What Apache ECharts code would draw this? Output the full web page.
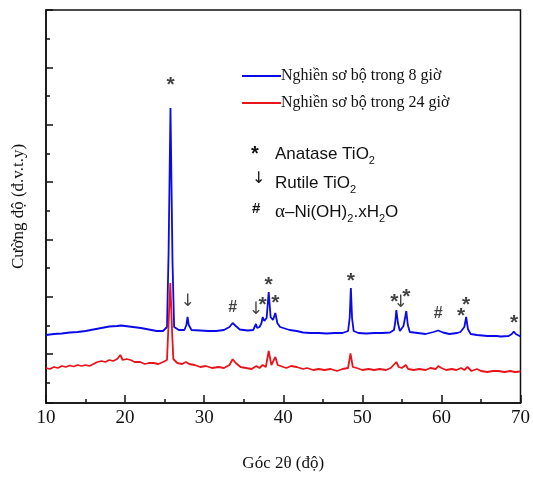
<!DOCTYPE html>
<html>
<head>
<meta charset="utf-8">
<script src="https://cdn.jsdelivr.net/npm/echarts@6/dist/echarts.min.js"></script>
<style>
  html, body { margin: 0; padding: 0; background: #fff; }
  #xrd_chart { width: 533px; height: 477px; }
</style>
</head>
<body>
<div id="xrd_chart"></div>
<script>
// 2theta (degrees) and intensity (a.u.)
var blueX = [10.0, 11.0, 12.0, 13.0, 14.0, 15.0, 16.0, 17.0, 18.0, 19.0, 19.5, 20.0, 21.0, 22.0, 23.0, 24.0, 24.8, 25.3, 25.5, 25.74, 26.0, 26.2, 26.8, 27.5, 27.75, 27.9, 28.05, 28.4, 29.5, 30.5, 31.5, 32.5, 33.2, 33.6, 34.0, 34.5, 35.5, 36.2, 36.4, 36.55, 36.7, 37.0, 37.25, 37.4, 37.6, 37.9, 38.16, 38.4, 38.7, 39.0, 39.25, 39.6, 40.0, 40.8, 41.7, 42.5, 43.4, 44.5, 45.5, 46.5, 47.5, 48.2, 48.4, 48.55, 48.7, 48.9, 49.5, 50.5, 51.5, 52.5, 53.5, 54.0, 54.15, 54.3, 54.5, 54.75, 54.9, 55.2, 55.4, 55.56, 55.75, 56.0, 57.0, 58.0, 59.0, 59.6, 60.2, 61.0, 62.0, 62.4, 62.6, 62.9, 63.13, 63.35, 63.7, 64.5, 65.8, 67.0, 67.5, 68.5, 68.9, 69.15, 69.4, 70.0];
var blueY = [68, 69, 69.5, 70.5, 71, 72, 73.5, 75, 76.5, 77, 77.5, 77, 76, 75, 73.5, 72, 72, 76, 150, 295, 140, 76, 73, 73, 78, 86, 78, 73, 72.5, 72, 72, 73, 76, 80, 77, 73.5, 72.5, 73, 75, 79, 75, 76, 80, 86, 82, 85, 111, 86, 83, 90, 80, 76, 75, 73, 72, 70.5, 70, 70, 69.5, 70, 70, 72, 85, 115, 85, 72, 70, 69.5, 70, 70, 70.5, 73, 80, 93, 80, 72, 72.5, 77, 85, 92, 78, 71, 70, 69, 71, 72.5, 70.5, 69, 70, 71, 70.5, 76, 86, 74, 69, 68, 67, 67, 66.5, 67, 69, 71.5, 69, 66.5];

var redX = [10.0, 10.5, 11.0, 11.5, 12.0, 12.5, 13.0, 13.5, 14.0, 14.5, 15.0, 15.5, 16.0, 16.5, 17.0, 17.5, 18.0, 18.5, 19.0, 19.4, 19.7, 20.2, 20.7, 21.2, 21.9, 22.5, 23.0, 23.6, 24.2, 24.8, 25.3, 25.5, 25.72, 25.95, 26.1, 26.6, 27.2, 27.7, 27.9, 28.1, 28.8, 29.5, 30.2, 31.0, 31.8, 32.5, 33.2, 33.6, 34.0, 34.6, 35.3, 36.0, 36.6, 37.0, 37.4, 37.8, 38.16, 38.5, 39.0, 39.3, 40.0, 40.4, 41.0, 41.7, 42.5, 43.0, 43.8, 44.5, 45.2, 46.0, 46.8, 47.5, 48.2, 48.5, 48.8, 49.3, 50.0, 50.8, 51.5, 52.2, 53.0, 53.6, 54.3, 54.6, 55.0, 55.5, 55.8, 56.5, 57.2, 58.0, 58.6, 59.3, 59.6, 60.0, 60.6, 61.3, 61.9, 62.5, 62.9, 63.3, 63.8, 64.5, 65.0, 65.8, 66.5, 67.2, 68.0, 68.7, 69.3, 70.0];
var redY = [35, 34, 36, 35, 37, 36, 37.5, 36.5, 38, 37, 38, 37, 39, 41, 42, 41, 43, 42, 44, 48, 43, 44, 43, 41, 41, 39, 40, 40, 39, 41, 43, 80, 120, 70, 44, 40, 39, 41, 43, 39, 38, 36, 37, 35, 36, 35, 38, 43.7, 40, 36, 35, 34, 37, 35, 38, 36, 52, 38, 46, 38, 36, 35, 37, 36, 34, 35, 33, 34, 33, 34, 32, 34, 35, 49.7, 36, 35, 33, 34, 33, 34, 33, 35, 41, 36, 35, 38, 34, 33, 34, 33, 35, 34, 37, 35, 33, 34, 33, 35, 33, 36, 32, 34, 32, 31, 32, 32, 31, 32, 31, 31.5];

// peak markers: position of each symbol
var starX = [25.74, 37.4, 38.16, 39.0, 48.55, 54.05, 55.56, 62.5, 63.13, 69.2];
var starY = [318, 98, 118, 100, 122, 101, 106, 87, 98, 80];
var arrowX = [27.9, 36.55, 54.85];
var arrowY = [101, 93, 100];
var hashX = [33.6, 59.6];
var hashY = [95, 89];

var xTicks = [10, 20, 30, 40, 50, 60, 70];

function pairs(xs, ys) {
    return xs.map(function (x, i) { return [x, ys[i]]; });
}

function markerSeries(name, xs, ys, text, size, weight, font) {
    return {
        name: name,
        type: 'scatter',
        yAxisIndex: 0,
        data: pairs(xs, ys),
        symbolSize: 1,
        itemStyle: { color: 'rgba(0,0,0,0)' },
        label: {
            show: true,
            position: 'inside',
            formatter: text,
            fontSize: size,
            fontWeight: weight,
            fontFamily: font,
            color: '#111'
        },
        silent: true,
        z: 5
    };
}

var xrd_chart = echarts.init(document.getElementById('xrd_chart'));
var xrd_option = {
    animation: false,
    backgroundColor: '#fff',
    grid: {
        left: 46,
        right: 12,
        top: 10,
        bottom: 74,
        show: true,
        borderColor: '#111',
        borderWidth: 1.5,
        backgroundColor: 'transparent'
    },
    legend: {
        orient: 'vertical',
        left: 237,
        top: 63,
        icon: 'rect',
        itemWidth: 39,
        itemHeight: 2,
        itemGap: 11,
        data: ['Nghiền sơ bộ trong 8 giờ', 'Nghiền sơ bộ trong 24 giờ'],
        textStyle: {
            fontFamily: 'Liberation Serif, serif',
            fontSize: 16,
            color: '#111',
            padding: [0, 0, 0, -5]
        }
    },
    xAxis: {
        type: 'value',
        min: xTicks[0],
        max: xTicks[xTicks.length - 1],
        interval: 10,
        name: 'Góc 2θ (độ)',
        nameLocation: 'middle',
        nameGap: 52,
        nameTextStyle: {
            fontFamily: 'Liberation Serif, serif',
            fontSize: 17,
            color: '#111'
        },
        axisLine: { lineStyle: { color: '#111', width: 1.5 } },
        axisTick: { inside: true, length: 8, lineStyle: { color: '#111', width: 1.5 } },
        minorTick: { show: true, splitNumber: 2, length: 4, lineStyle: { color: '#111', width: 1.5 } },
        axisLabel: {
            margin: 6,
            fontFamily: 'Liberation Serif, serif',
            fontSize: 19,
            color: '#111'
        },
        splitLine: { show: false }
    },
    yAxis: [
        {
            type: 'value',
            min: 0,
            max: 393,
            show: false
        },
        {
            type: 'value',
            inverse: true,
            min: 0,
            max: 13.7,
            interval: 2,
            position: 'left',
            name: 'Cường độ (đ.v.t.y)',
            nameLocation: 'middle',
            nameGap: 19,
            nameTextStyle: {
                fontFamily: 'Liberation Serif, serif',
                fontSize: 17,
                color: '#111'
            },
            axisLine: { show: true, lineStyle: { color: '#111', width: 1.5 } },
            axisTick: { show: true, inside: true, length: 7, lineStyle: { color: '#111', width: 1.5 } },
            minorTick: { show: true, splitNumber: 2, length: 4, lineStyle: { color: '#111', width: 1.5 } },
            axisLabel: { show: false },
            splitLine: { show: false }
        }
    ],
    graphic: [
        {
            type: 'group',
            left: 251,
            top: 144,
            children: [
                { type: 'text', x: 0, y: 2, style: { text: '*', font: 'bold 20px "Liberation Sans", sans-serif', fill: '#111' } },
                { type: 'text', x: 24, y: 0, style: {
                    text: 'Anatase TiO{s|2}',
                    font: '17px "Liberation Sans", sans-serif', fill: '#111',
                    rich: { s: { fontSize: 11, fontFamily: 'Liberation Sans', padding: [13, 0, 0, 0] } }
                } },
                { type: 'text', x: 1, y: 29, style: { text: '↓', font: '16px "DejaVu Sans", sans-serif', fill: '#111' } },
                { type: 'text', x: 24, y: 29, style: {
                    text: 'Rutile TiO{s|2}',
                    font: '17px "Liberation Sans", sans-serif', fill: '#111',
                    rich: { s: { fontSize: 11, fontFamily: 'Liberation Sans', padding: [13, 0, 0, 0] } }
                } },
                { type: 'text', x: 1, y: 59, style: { text: '#', font: 'bold 15px "Liberation Sans", sans-serif', fill: '#111' } },
                { type: 'text', x: 24, y: 58, style: {
                    text: '{a|α}–Ni(OH){s|2}.xH{s|2}O',
                    font: '17px "Liberation Sans", sans-serif', fill: '#111',
                    rich: {
                        a: { fontSize: 19, fontFamily: 'Liberation Serif' },
                        s: { fontSize: 11, fontFamily: 'Liberation Sans', padding: [13, 0, 0, 0] }
                    }
                } }
            ]
        }
    ],
    series: [
        {
            name: 'Nghiền sơ bộ trong 8 giờ',
            type: 'line',
            yAxisIndex: 0,
            data: pairs(blueX, blueY),
            symbol: 'none',
            color: '#0a0ae6',
            lineStyle: { color: '#0a0ae6', width: 1.8 },
            z: 3
        },
        {
            name: 'Nghiền sơ bộ trong 24 giờ',
            type: 'line',
            yAxisIndex: 0,
            data: pairs(redX, redY),
            symbol: 'none',
            color: '#e8141c',
            lineStyle: { color: '#e8141c', width: 1.8 },
            z: 4
        },
        markerSeries('stars', starX, starY, '*', 21, 'bold', 'Liberation Sans, sans-serif'),
        markerSeries('arrows', arrowX, arrowY, '↓', 17, 'normal', 'DejaVu Sans, sans-serif'),
        markerSeries('hashes', hashX, hashY, '#', 16, 'bold', 'Liberation Sans, sans-serif')
    ]
};
xrd_chart.setOption(xrd_option);

window.addEventListener('resize', function () {
    xrd_chart.resize();
});
</script>
</body>
</html>
